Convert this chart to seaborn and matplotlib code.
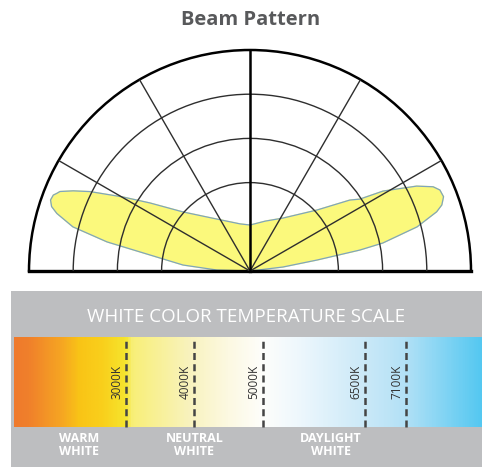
import numpy as np
import matplotlib
matplotlib.use("Agg")
import matplotlib.pyplot as plt
import seaborn as sns
from matplotlib.colors import LinearSegmentedColormap

# Beam pattern outline (angle in degrees, relative intensity on 0-5 rings)
beam_deg = [0, 6.9, 9.3, 10.8, 11.9, 14.8, 17.6, 19.0, 21.0, 23.1, 24.7, 27.0,
            31.0, 33.2, 35.4, 42.3, 58.1, 73.0, 90.0,
            102.0, 122.4, 138.6, 145.8, 149.8, 153.6, 155.6, 157.3, 158.1,
            158.9, 160.4, 162.0, 163.4, 166.0, 168.5, 170.9, 174.9, 178.3, 180.0]
beam_r = [0, 0.75, 1.54, 2.53, 3.07, 3.91, 4.43, 4.59, 4.69, 4.67, 4.56, 4.23,
          3.51, 2.97, 2.77, 2.05, 1.41, 1.18, 1.04,
          1.09, 1.39, 2.02, 2.74, 3.33, 4.04, 4.39, 4.66, 4.71,
          4.77, 4.79, 4.72, 4.56, 4.13, 3.30, 2.29, 1.52, 0.75, 0]
ring_values = [2, 3, 4]
spoke_deg = [30, 60, 120, 150]

# Color temperature scale
temps = [3000, 4000, 5000, 6500, 7100]
temp_labels = ["3000K", "4000K", "5000K", "6500K", "7100K"]
zone_labels = ["WARM\nWHITE", "NEUTRAL\nWHITE", "DAYLIGHT\nWHITE"]
zone_kelvin = [2300, 4000, 6000]
grad_kelvin = [1350, 1550, 2050, 2300, 2650, 2980, 3080, 3950, 4500, 5000,
               5500, 6500, 7100, 8220]
grad_colors = ["#ef7a2c", "#f0802b", "#f6a722", "#f9c416", "#f9d01c", "#f5e52e",
               "#f8ef78", "#f9f3c0", "#fcf9e2", "#fefefb",
               "#eff8fd", "#cbe9f8", "#b3e1f6", "#55c8f1"]

sns.set_theme(style="white")
plt.rcParams["font.family"] = ["Open Sans", "DejaVu Sans"]

fig = plt.figure(figsize=(4.82, 4.67), dpi=100)

fig.text(251 / 482, 1 - 20 / 467, "Beam Pattern", ha="center", va="center",
         fontsize=14.5, fontweight="bold", color="#58595b")

# Polar beam chart (square box; the half disc sits in its middle)
ax = fig.add_axes([29 / 482, (467 - 381.5) / 467, 442 / 482, 442 / 467],
                  projection="polar")
ax.set_thetamin(0)
ax.set_thetamax(180)
theta = np.deg2rad(beam_deg)
ax.fill(theta, beam_r, color="#fbf97c", zorder=1)
sns.lineplot(x=theta, y=beam_r, sort=False, ax=ax, color="#7fa5bd", lw=0.9,
             zorder=1.5)
ax.plot([np.pi / 2, np.pi / 2], [0, 5], color="black", lw=1.8, zorder=3)
ax.set_rlim(0, 5)
ax.set_rticks(ring_values)
ax.set_thetagrids(spoke_deg)
ax.set_xticklabels([])
ax.set_yticklabels([])
ax.set_axisbelow(False)
ax.grid(True, color="#2e2e2e", lw=1.0)
ax.spines["polar"].set(lw=1.8, color="black")
ax.spines["start"].set(lw=2.4, color="black")
ax.spines["end"].set(lw=2.4, color="black")
ax.spines["inner"].set_visible(False)

# Color temperature scale
ax2 = fig.add_axes([11 / 482, 0, 471 / 482, 176 / 467])
ax2.set_facecolor("#bdbec0")
stops = [(k - grad_kelvin[0]) / (grad_kelvin[-1] - grad_kelvin[0]) for k in grad_kelvin]
cmap = LinearSegmentedColormap.from_list("cct", list(zip(stops, grad_colors)))
bar_lo, bar_hi = 0.2273, 0.7386
ax2.imshow(np.linspace(0, 1, 600)[None, :], cmap=cmap, aspect="auto",
           extent=[grad_kelvin[0], grad_kelvin[-1], bar_lo, bar_hi], zorder=1)
ax2.vlines(temps, bar_lo, bar_hi, colors="#454545", lw=1.8,
           linestyles=(0, (2.8, 1.7)), zorder=2)
for t, lab in zip(temps, temp_labels):
    ax2.annotate(lab, (t, 0.483), xytext=(-6.5, 0), textcoords="offset points",
                 rotation=90, ha="center", va="center", fontsize=8.5,
                 color="#333333")
for k, lab in zip(zone_kelvin, zone_labels):
    ax2.text(k, 0.125, lab, ha="center", va="center", fontsize=9,
             fontweight="bold", color="white", linespacing=1.05)
ax2.text(0.5, 0.852, "WHITE COLOR TEMPERATURE SCALE", transform=ax2.transAxes,
         ha="center", va="center", fontsize=13.5, color="white")
ax2.set_xlim(1306, 8221)
ax2.set_ylim(0, 1)
ax2.set_xticks([])
ax2.set_yticks([])
for s in ax2.spines.values():
    s.set_visible(False)

fig.savefig("out.png", dpi=100)
